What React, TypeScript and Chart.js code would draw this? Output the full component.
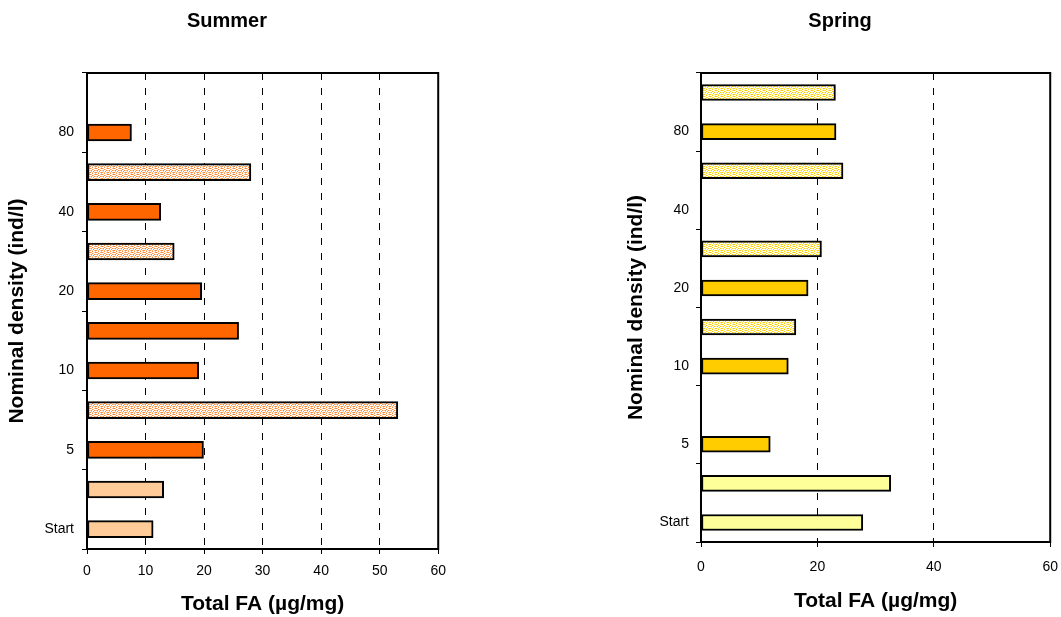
import React, { useEffect, useRef } from 'react';
import { Chart, registerables } from 'chart.js';

Chart.register(...registerables);

// ---- data (index 0 = bottom row) ----
const categoryLabels = ['Start', '', '5', '', '10', '', '20', '', '40', '', '80', ''];

const summerValues: (number | null)[] = [11.3, 13.1, 19.9, 53.1, 19.1, 25.9, 19.6, 14.9, 12.6, 28.0, 7.6, null];
const summerKinds = ['light', 'light', 'solid', 'dotted', 'solid', 'solid', 'solid', 'dotted', 'solid', 'dotted', 'solid', 'solid'];

const springValues: (number | null)[] = [27.8, 32.6, 11.9, null, 15.0, 16.3, 18.4, 20.7, null, 24.4, 23.2, 23.1];
const springKinds = ['light', 'light', 'solid', 'solid', 'solid', 'dotted', 'solid', 'dotted', 'solid', 'dotted', 'solid', 'dotted'];

const summerXTicks = [0, 10, 20, 30, 40, 50, 60];
const springXTicks = [0, 20, 40, 60];

const FONT = '"Liberation Sans", Arial, Helvetica, sans-serif';

function makePattern(main: string, soft: string): CanvasPattern | string {
  const rows = ['MSWWSM', 'WWMSWW', 'SMWWMS', 'WSWMWW', 'MWSWSM', 'WWMWWS'];
  const n = rows.length;
  const c = document.createElement('canvas');
  c.width = n;
  c.height = n;
  const g = c.getContext('2d');
  if (!g) return soft;
  g.fillStyle = '#ffffff';
  g.fillRect(0, 0, n, n);
  for (let y = 0; y < n; y++) {
    for (let x = 0; x < n; x++) {
      const ch = rows[y][x];
      if (ch === 'M') { g.fillStyle = main; g.fillRect(x, y, 1, 1); }
      if (ch === 'S') { g.fillStyle = soft; g.fillRect(x, y, 1, 1); }
    }
  }
  const p = g.createPattern(c, 'repeat');
  return p || soft;
}

const framePlugin = {
  id: 'frame',
  afterDatasetsDraw(chart: any) {
    const { ctx, chartArea: a } = chart;
    ctx.save();
    ctx.strokeStyle = '#000';
    ctx.lineWidth = 2;
    ctx.strokeRect(a.left, a.top, a.right - a.left, a.bottom - a.top);
    ctx.restore();
  },
};

interface PanelProps {
  title: string;
  titleX: number;
  values: (number | null)[];
  kinds: string[];
  palette: { solid: string; light: string; dotMain: string; dotSoft: string };
  xTicks: number[];
  left: number;
  width: number;
  yWidth: number;
  xHeight: number;
  rightPad: number;
  yTitlePad: number;
  xTitlePad: number;
  xTickPad: number;
  yTickPad: number;
  barThickness: number;
}

function Panel(p: PanelProps) {
  const ref = useRef<HTMLCanvasElement | null>(null);
  useEffect(() => {
    if (!ref.current) return;
    const dotted = makePattern(p.palette.dotMain, p.palette.dotSoft);
    const colors = p.kinds.map((k) => (k === 'solid' ? p.palette.solid : k === 'light' ? p.palette.light : dotted));
    const titlePlugin = {
      id: 'panelTitle',
      afterDraw(chart: any) {
        const ctx = chart.ctx;
        ctx.save();
        ctx.fillStyle = '#000';
        ctx.font = `bold 20px ${FONT}`;
        ctx.textAlign = 'center';
        ctx.textBaseline = 'middle';
        ctx.fillText(p.title, p.titleX, 21);
        ctx.restore();
      },
    };
    const chart = new Chart(ref.current, {
      type: 'bar',
      data: {
        labels: categoryLabels,
        datasets: [
          {
            data: p.values as any,
            backgroundColor: colors as any,
            borderColor: '#000',
            borderWidth: 2,
            borderSkipped: false,
            barThickness: p.barThickness,
          },
        ],
      },
      options: {
        indexAxis: 'y',
        responsive: false,
        animation: false,
        devicePixelRatio: 1,
        layout: { padding: { left: 0, right: p.rightPad, top: 73, bottom: 0 } },
        plugins: {
          legend: { display: false },
          tooltip: { enabled: false },
          title: { display: false },
        },
        scales: {
          x: {
            type: 'linear',
            min: 0,
            max: 60,
            afterBuildTicks: (s: any) => {
              s.ticks = p.xTicks.map((v) => ({ value: v }));
            },
            afterFit: (s: any) => {
              s.height = p.xHeight;
            },
            grid: {
              color: '#000',
              lineWidth: 1,
              tickLength: 5,
              drawTicks: true,
            },
            border: { display: false, dash: [7, 8] },
            ticks: {
              color: '#000',
              font: { family: FONT, size: 14 },
              padding: p.xTickPad,
              maxRotation: 0,
            },
            title: {
              display: true,
              text: 'Total FA (µg/mg)',
              color: '#000',
              font: { family: FONT, size: 21, weight: 'bold' },
              padding: { top: 0, bottom: p.xTitlePad },
            },
          },
          y: {
            type: 'category',
            reverse: true,
            offset: true,
            afterFit: (s: any) => {
              s.width = p.yWidth;
            },
            grid: {
              offset: true,
              drawOnChartArea: false,
              drawTicks: true,
              tickLength: 5,
              lineWidth: 1,
              color: (c: any) => (c.index === undefined || c.index % 2 === 0 ? '#000' : 'rgba(0,0,0,0)'),
            },
            border: { display: false },
            ticks: {
              autoSkip: false,
              color: '#000',
              font: { family: FONT, size: 14 },
              padding: p.yTickPad,
            },
            title: {
              display: true,
              text: 'Nominal density (ind/l)',
              color: '#000',
              font: { family: FONT, size: 21, weight: 'bold' },
              padding: { top: p.yTitlePad, bottom: 0 },
            },
          },
        },
      },
      plugins: [framePlugin, titlePlugin],
    } as any);
    return () => chart.destroy();
  }, []);
  return (
    <canvas
      ref={ref}
      width={p.width}
      height={617}
      style={{ position: 'absolute', left: p.left, top: 0, width: p.width, height: 617 }}
    />
  );
}

export default function App() {
  return (
    <div style={{ position: 'fixed', left: 0, top: 0, width: 1061, height: 617, background: '#fff', overflow: 'hidden' }}>
      <Panel
        title="Summer"
        titleX={227}
        values={summerValues}
        kinds={summerKinds}
        palette={{ solid: '#FF6600', light: '#FFCC99', dotMain: '#FF8833', dotSoft: '#FFC499' }}
        xTicks={summerXTicks}
        left={0}
        width={455}
        yWidth={87}
        xHeight={68}
        rightPad={16}
        yTitlePad={5}
        xTitlePad={0}
        xTickPad={9}
        yTickPad={8}
        barThickness={17}
      />
      <Panel
        title="Spring"
        titleX={220}
        values={springValues}
        kinds={springKinds}
        palette={{ solid: '#FFCC00', light: '#FFFF99', dotMain: '#FFCC00', dotSoft: '#FFEE88' }}
        xTicks={springXTicks}
        left={620}
        width={450}
        yWidth={81}
        xHeight={75}
        rightPad={16}
        yTitlePad={4}
        xTitlePad={3}
        xTickPad={12}
        yTickPad={7}
        barThickness={16}
      />
    </div>
  );
}
